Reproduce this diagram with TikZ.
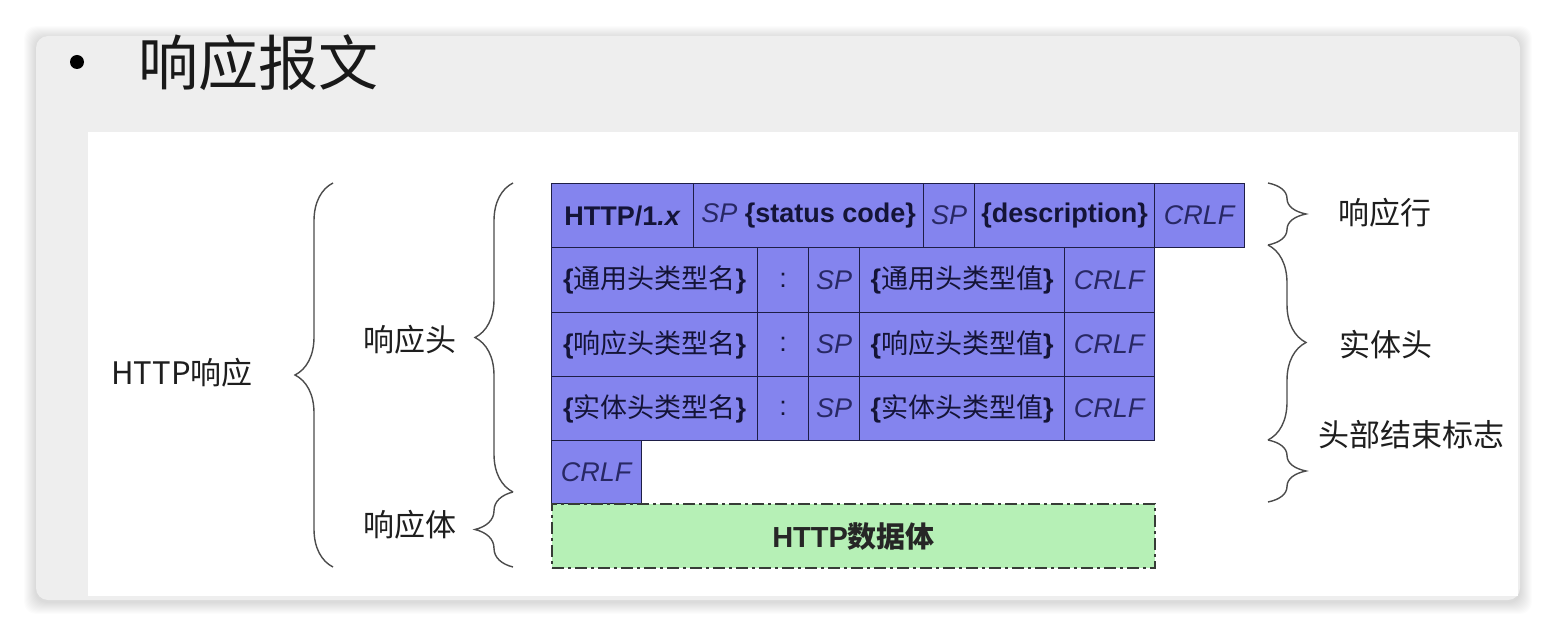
\documentclass[tikz,border=0pt]{standalone}
\usepackage{fontspec}
\setmainfont{Liberation Sans}
\newfontfamily\cjk{Noto Sans CJK SC}
\usetikzlibrary{decorations.pathreplacing}
\definecolor{cellfill}{RGB}{132,132,238}
\definecolor{celldraw}{RGB}{30,30,70}
\definecolor{celltext}{RGB}{20,20,55}
\definecolor{celltexti}{RGB}{40,40,100}
\definecolor{greenfill}{RGB}{182,240,182}
\definecolor{greendraw}{RGB}{55,60,55}
\definecolor{cardgray}{RGB}{238,238,238}
\definecolor{labelgray}{RGB}{30,30,30}
\newcommand\spx{\textcolor{celltexti}{\textit{SP}}}
\newcommand\crlfx{\textcolor{celltexti}{\textit{CRLF}}}
\newcommand\cb[1]{\textbf{\{}{\cjk #1}\textbf{\}}}
\begin{document}
\begin{tikzpicture}[x=1pt,y=-1pt,
  cell/.style={draw=celldraw, line width=1.3pt, fill=cellfill, inner sep=0pt, anchor=north west,
    text=celltext, font=\fontsize{27}{27}\selectfont},
  lbl/.style={text=labelgray, font=\cjk\fontsize{31}{31}\selectfont, inner sep=0pt},
  brc/.style={decorate, decoration={brace, amplitude=#1}, draw=black!70, line width=1.4pt},
  brc/.default=38pt,
]
\useasboundingbox (0,0) rectangle (1556,636);
\fill[white] (0,0) rectangle (1556,636);
% shadow
\foreach \i in {1,...,12}
  \fill[black, opacity=0.013, rounded corners=12pt] (36-\i,36-\i+2) rectangle (1520+\i,600+\i+2);
% card
\fill[cardgray, rounded corners=12pt] (36,36) rectangle (1520,600);
\fill[white] (88,132) rectangle (1518,596);
% title
\node[circle, fill=black, inner sep=0pt, minimum size=14pt] (bullet) at (77,62) {};
\node[inner sep=0pt, font=\cjk\fontsize{60}{60}\selectfont, text=black!90, anchor=west] (title) at (138,63) {响应报文};
% row 1
\node[cell, minimum width=142pt, minimum height=64pt] (a1) at (551,183) {\textbf{HTTP/1}\textbf{\textit{.x}}};
\node[cell, minimum width=230pt, minimum height=64pt] (a2) at (693,183) {\spx\ \textbf{\{status code\}}};
\node[cell, minimum width=51pt, minimum height=64pt] (a3) at (923,183) {\spx};
\node[cell, minimum width=180pt, minimum height=64pt] (a4) at (974,183) {\textbf{\{description\}}};
\node[cell, minimum width=90pt, minimum height=64pt] (a5) at (1154,183) {\crlfx};
% row 2
\node[cell, minimum width=206pt, minimum height=65pt] (b1) at (551,247) {\cb{通用头类型名}};
\node[cell, minimum width=51pt, minimum height=65pt] (b2) at (757,247) {:};
\node[cell, minimum width=51pt, minimum height=65pt] (b3) at (808,247) {\spx};
\node[cell, minimum width=205pt, minimum height=65pt] (b4) at (859,247) {\cb{通用头类型值}};
\node[cell, minimum width=90pt, minimum height=65pt] (b5) at (1064,247) {\crlfx};
% row 3
\node[cell, minimum width=206pt, minimum height=64pt] (c1) at (551,312) {\cb{响应头类型名}};
\node[cell, minimum width=51pt, minimum height=64pt] (c2) at (757,312) {:};
\node[cell, minimum width=51pt, minimum height=64pt] (c3) at (808,312) {\spx};
\node[cell, minimum width=205pt, minimum height=64pt] (c4) at (859,312) {\cb{响应头类型值}};
\node[cell, minimum width=90pt, minimum height=64pt] (c5) at (1064,312) {\crlfx};
% row 4
\node[cell, minimum width=206pt, minimum height=64pt] (d1) at (551,376) {\cb{实体头类型名}};
\node[cell, minimum width=51pt, minimum height=64pt] (d2) at (757,376) {:};
\node[cell, minimum width=51pt, minimum height=64pt] (d3) at (808,376) {\spx};
\node[cell, minimum width=205pt, minimum height=64pt] (d4) at (859,376) {\cb{实体头类型值}};
\node[cell, minimum width=90pt, minimum height=64pt] (d5) at (1064,376) {\crlfx};
% row 5
\node[cell, minimum width=90pt, minimum height=63pt] (e1) at (551,440) {\crlfx};
% body
\node[draw=greendraw, line width=2.2pt, dash pattern=on 12pt off 4pt on 3pt off 4pt, fill=greenfill,
  inner sep=0pt, anchor=north west, minimum width=603pt, minimum height=64pt,
  font=\fontsize{29}{29}\selectfont, text=black!85] (body) at (551,503) {\textbf{HTTP}{\cjk\bfseries 数据体}};
% left braces
\coordinate (L1t) at (333,183); \coordinate (L1b) at (333,567);
\draw[brc] (L1b) -- (L1t);
\coordinate (L2t) at (513,183); \coordinate (L2b) at (513,492);
\draw[brc] (L2b) -- (L2t);
\coordinate (L3t) at (513,492); \coordinate (L3b) at (513,567);
\draw[brc] (L3b) -- (L3t);
% right braces
\coordinate (R1t) at (1268,183); \coordinate (R1b) at (1268,245);
\draw[brc] (R1t) -- (R1b);
\coordinate (R2t) at (1268,245); \coordinate (R2b) at (1268,440);
\draw[brc] (R2t) -- (R2b);
\coordinate (R3t) at (1268,440); \coordinate (R3b) at (1268,502);
\draw[brc] (R3t) -- (R3b);
% labels
\node[lbl] (http) at (182,373) {HTTP响应};
\node[lbl] (head) at (410,340) {响应头};
\node[lbl] (bodyl) at (410,525) {响应体};
\node[lbl] (line) at (1385,213) {响应行};
\node[lbl] (ent) at (1386,345) {实体头};
\node[lbl] (endl) at (1411,435) {头部结束标志};
\end{tikzpicture}
\end{document}
